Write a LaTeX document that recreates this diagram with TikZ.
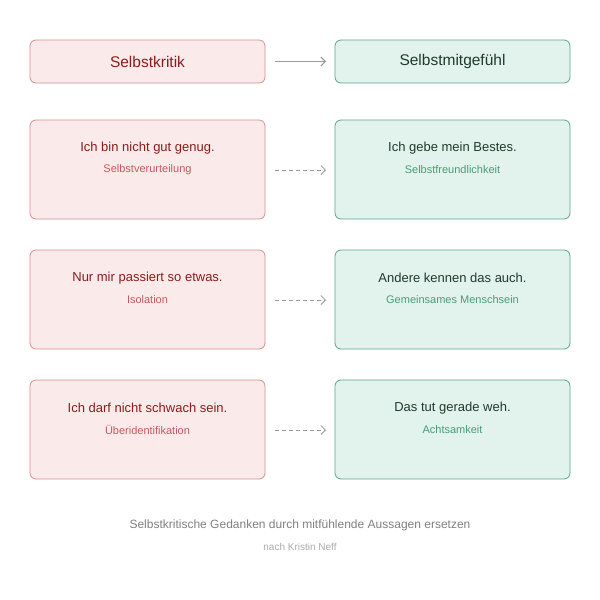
\documentclass[tikz,border=0pt]{standalone}
\usepackage{fontspec}
\setmainfont{Liberation Sans}
\usetikzlibrary{arrows.meta}
\definecolor{rfill}{HTML}{FBEAEA}
\definecolor{rdraw}{HTML}{D78F8F}
\definecolor{rtext}{HTML}{8B1C1C}
\definecolor{rsub}{HTML}{C45A5C}
\definecolor{gfill}{HTML}{E1F3EC}
\definecolor{gdraw}{HTML}{5AA888}
\definecolor{gtext}{HTML}{1F3A2E}
\definecolor{gsub}{HTML}{4A9C77}
\begin{document}
\begin{tikzpicture}[x=1pt,y=-1pt,
 rbox/.style={draw=rdraw,fill=rfill,rounded corners=6pt,line width=0.8pt},
 gbox/.style={draw=gdraw,fill=gfill,rounded corners=6pt,line width=0.8pt},
 arr/.style={draw=black!40,line width=1pt,-{Straight Barb[length=4.5pt]}},
 darr/.style={arr,line width=0.8pt,dash pattern=on 4pt off 3pt}]
\useasboundingbox[fill=white] (0,0) rectangle (600,600);
\node[rbox,minimum width=235pt,minimum height=43pt,text=rtext,font=\fontsize{15.5}{18}\selectfont] (h1) at (147.5,61.5) {Selbstkritik};
\node[gbox,minimum width=235pt,minimum height=43pt,text=gtext,font=\fontsize{15.5}{18}\selectfont] (h2) at (452.5,61.5) {Selbstmitgefühl};
\draw[arr] (275,61.5) -- (326,61.5);
\foreach \y/\a/\as/\b/\bs/\n in {120/Ich bin nicht gut genug./Selbstverurteilung/Ich gebe mein Bestes./Selbstfreundlichkeit/1,
 250/Nur mir passiert so etwas./Isolation/Andere kennen das auch./Gemeinsames Menschsein/2,
 380/Ich darf nicht schwach sein./Überidentifikation/Das tut gerade weh./Achtsamkeit/3}{
 \draw[rbox] (30,\y) rectangle (265,\y+99);
 \draw[gbox] (335,\y) rectangle (570,\y+99);
 \node[text=rtext,font=\fontsize{13}{15}\selectfont] (l\n) at (147.5,\y+28) {\a};
 \node[text=rsub,font=\fontsize{11}{13}\selectfont] (ls\n) at (147.5,\y+50) {\as};
 \node[text=gtext,font=\fontsize{13}{15}\selectfont] (r\n) at (452.5,\y+28) {\b};
 \node[text=gsub,font=\fontsize{11}{13}\selectfont] (rs\n) at (452.5,\y+50) {\bs};
 \coordinate (s\n) at (275,\y+50);
 \coordinate (t\n) at (326,\y+50);
 \draw[darr] (s\n) -- (t\n);
}
\node[text=black!50,font=\fontsize{12}{14}\selectfont] (cap) at (300,525) {Selbstkritische Gedanken durch mitfühlende Aussagen ersetzen};
\node[text=black!33,font=\fontsize{10}{12}\selectfont] (sub) at (300,547) {nach Kristin Neff};
\end{tikzpicture}
\end{document}
